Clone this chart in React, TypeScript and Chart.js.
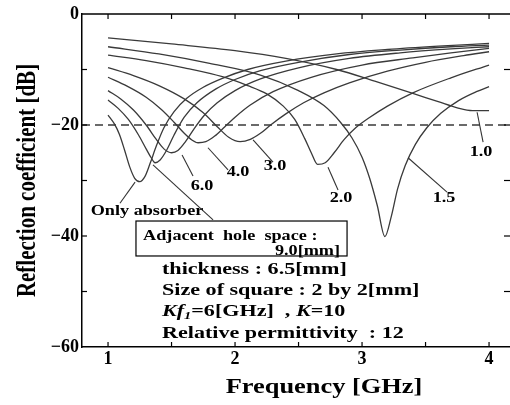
import React, { useEffect, useRef } from "react";
import { Chart, registerables } from "chart.js";

Chart.register(...registerables);

// ---- data (frequency in GHz, reflection coefficient in dB) ----
const seriesNames = ["Only absorber", "9.0", "6.0", "4.0", "3.0", "2.0", "1.5", "1.0"];

const freqOnly = [1.0, 1.05, 1.09, 1.13, 1.17, 1.21, 1.25, 1.29, 1.33, 1.38, 1.44, 1.52, 1.62, 1.75, 1.9, 2.1, 2.4, 2.8, 3.2, 3.6, 4.0];
const dbOnly = [-18.2, -19.8, -21.7, -24.5, -27.5, -29.6, -30.2, -29.3, -27.0, -23.8, -20.5, -17.6, -15.2, -13.2, -11.6, -10.0, -8.5, -7.2, -6.4, -5.8, -5.3];

const freq90 = [1.0, 1.08, 1.16, 1.24, 1.3, 1.34, 1.37, 1.41, 1.46, 1.52, 1.6, 1.7, 1.85, 2.0, 2.2, 2.5, 2.9, 3.3, 3.7, 4.0];
const db90 = [-15.5, -17.0, -19.0, -21.8, -24.3, -25.9, -26.8, -26.3, -24.6, -21.8, -18.6, -16.0, -13.5, -11.8, -10.2, -8.7, -7.3, -6.5, -5.9, -5.6];

const freq60 = [1.0, 1.1, 1.2, 1.3, 1.38, 1.44, 1.5, 1.55, 1.61, 1.68, 1.76, 1.86, 2.0, 2.2, 2.5, 2.9, 3.3, 3.7, 4.0];
const db60 = [-13.8, -15.3, -17.3, -20.0, -22.6, -24.3, -25.0, -24.6, -23.0, -20.6, -18.2, -16.0, -13.8, -11.7, -9.7, -8.0, -7.0, -6.3, -5.9];

const freq40 = [1.0, 1.15, 1.3, 1.42, 1.52, 1.6, 1.66, 1.71, 1.77, 1.84, 1.92, 2.0, 2.12, 2.3, 2.6, 3.0, 3.4, 3.7, 4.0];
const db40 = [-11.4, -13.0, -15.0, -17.2, -19.5, -21.5, -22.7, -23.2, -23.0, -22.0, -20.3, -18.6, -16.4, -14.0, -11.4, -9.2, -7.9, -7.0, -6.2];

const freq30 = [1.0, 1.2, 1.4, 1.6, 1.75, 1.86, 1.95, 2.04, 2.12, 2.2, 2.28, 2.4, 2.54, 2.7, 2.9, 3.2, 3.5, 3.8, 4.0];
const db30 = [-9.65, -11.1, -12.9, -15.3, -17.8, -20.3, -22.2, -23.0, -22.6, -21.5, -20.0, -18.0, -16.0, -14.2, -12.4, -10.3, -8.7, -7.5, -6.8];

const freq20 = [1.0, 1.3, 1.6, 1.9, 2.1, 2.25, 2.38, 2.47, 2.55, 2.6, 2.65, 2.71, 2.78, 2.86, 2.95, 3.05, 3.2, 3.4, 3.7, 4.0];
const db20 = [-7.4, -8.4, -9.7, -11.3, -12.9, -14.4, -16.6, -19.0, -22.5, -25.0, -27.1, -26.8, -25.0, -22.6, -20.5, -18.8, -16.6, -14.2, -11.5, -9.2];

const freq15 = [1.0, 1.4, 1.8, 2.2, 2.5, 2.7, 2.83, 2.92, 3.0, 3.06, 3.12, 3.18, 3.23, 3.28, 3.34, 3.42, 3.51, 3.62, 3.76, 3.9, 4.0];
const db15 = [-5.9, -7.2, -8.9, -11.0, -13.8, -16.5, -19.5, -22.3, -25.8, -29.6, -34.5, -40.1, -36.5, -31.5, -27.3, -23.5, -20.5, -17.9, -15.6, -14.0, -13.1];

const freq10 = [1.0, 1.5, 2.0, 2.4, 2.8, 3.1, 3.4, 3.6, 3.75, 3.87, 4.0];
const db10 = [-4.3, -5.4, -6.6, -8.0, -10.0, -12.1, -14.3, -15.8, -16.9, -17.4, -17.4];

const seriesFreqs = [freqOnly, freq90, freq60, freq40, freq30, freq20, freq15, freq10];
const seriesDbs = [dbOnly, db90, db60, db40, db30, db20, db15, db10];

const referenceLevel = -20;
const xMin = 0.795;
const xMax = 4.165;
const yMin = -60;
const yMax = 0;
const xTickValues = [1, 2, 3, 4];
const yTickValues = [0, -20, -40, -60];
const xMinorTicks = [1, 1.5, 2, 2.5, 3, 3.5, 4];
const yMinorTicks = [-10, -20, -30, -40, -50];

// annotation texts
const xTitle = "Frequency [GHz]";
const yTitle = "Reflection coefficient [dB]";
const boxLine1 = "Adjacent  hole  space :";
const boxLine2 = "9.0[mm]";
const paramLine1 = "thickness : 6.5[mm]";
const paramLine2 = "Size of square : 2 by 2[mm]";
const paramLine4 = "Relative permittivity  : 12";

// curve labels: text, label centre (GHz, dB), pointer from/to (GHz, dB)
const curveLabels = [
  { text: "Only absorber", at: [1.307, -35.5], p: [1.094, -34.1, 1.213, -30.3] },
  { text: "6.0", at: [1.74, -31.0], p: [1.583, -25.4, 1.669, -29.2] },
  { text: "4.0", at: [2.024, -28.5], p: [1.787, -24.1, 1.945, -28.1] },
  { text: "3.0", at: [2.315, -27.4], p: [2.142, -22.7, 2.299, -26.7] },
  { text: "2.0", at: [2.835, -33.2], p: [2.732, -27.6, 2.811, -31.7] },
  { text: "1.5", at: [3.646, -33.3], p: [3.362, -25.9, 3.669, -32.1] },
  { text: "1.0", at: [3.937, -24.9], p: [3.906, -17.7, 3.953, -23.1] },
];

const SERIF = '"Liberation Serif", "Times New Roman", serif';
const SX = 1.3;

function drawStretched(
  ctx: CanvasRenderingContext2D,
  text: string,
  x: number,
  y: number,
  font: string,
  sx: number,
  align: "left" | "center" | "right" = "left"
) {
  ctx.save();
  ctx.font = font;
  ctx.textBaseline = "middle";
  ctx.textAlign = "left";
  const w = ctx.measureText(text).width * sx;
  let x0 = x;
  if (align === "center") x0 = x - w / 2;
  else if (align === "right") x0 = x - w;
  ctx.translate(x0, y);
  ctx.scale(sx, 1);
  ctx.fillStyle = "#000";
  ctx.fillText(text, 0, 0);
  ctx.restore();
  return w;
}

const decorPlugin = {
  id: "decor",
  afterDraw(chart: any) {
    const { ctx, chartArea: a, scales } = chart;
    const X = (v: number) => scales.x.getPixelForValue(v);
    const Y = (v: number) => scales.y.getPixelForValue(v);
    const line = (x1: number, y1: number, x2: number, y2: number) => {
      ctx.beginPath();
      ctx.moveTo(x1, y1);
      ctx.lineTo(x2, y2);
      ctx.stroke();
    };
    ctx.save();
    ctx.strokeStyle = "#000";
    ctx.lineWidth = 1.5;
    line(a.left, a.top, a.right, a.top);
    ctx.lineWidth = 1.2;
    xMinorTicks.forEach((v) => {
      line(X(v), a.bottom, X(v), a.bottom - 5);
      line(X(v), a.top, X(v), a.top + 5);
    });
    yMinorTicks.forEach((v) => {
      line(a.left, Y(v), a.left + 5, Y(v));
      line(a.right, Y(v), a.right - 6, Y(v));
    });

    // pointers
    ctx.strokeStyle = "#333";
    ctx.lineWidth = 1.1;
    curveLabels.forEach((c) => line(X(c.p[0]), Y(c.p[1]), X(c.p[2]), Y(c.p[3])));
    // box pointer
    line(X(1.354), Y(-27.2), X(1.827), Y(-37.1));

    // curve labels
    curveLabels.forEach((c) =>
      drawStretched(ctx, c.text, X(c.at[0]), Y(c.at[1]), `bold 14px ${SERIF}`, SX, "center")
    );

    // box
    ctx.strokeStyle = "#000";
    ctx.lineWidth = 1.2;
    const bx1 = X(1.22), by1 = Y(-37.3), bx2 = X(2.882), by2 = Y(-43.6);
    ctx.fillStyle = "#fff";
    ctx.fillRect(bx1, by1, bx2 - bx1, by2 - by1);
    ctx.strokeRect(bx1, by1, bx2 - bx1, by2 - by1);
    drawStretched(ctx, boxLine1, X(1.276), Y(-40.0), `bold 14px ${SERIF}`, SX, "left");
    drawStretched(ctx, boxLine2, X(2.827), Y(-42.7), `bold 14px ${SERIF}`, SX, "right");

    // parameter block
    const px = X(1.425);
    const pf = `bold 17px ${SERIF}`;
    const pfi = `italic bold 17px ${SERIF}`;
    drawStretched(ctx, paramLine1, px, Y(-46.1), pf, SX);
    drawStretched(ctx, paramLine2, px, Y(-49.9), pf, SX);
    const y3 = Y(-53.7);
    let cx = px;
    cx += drawStretched(ctx, "Kf", cx, y3, pfi, SX);
    cx += drawStretched(ctx, "1", cx, y3 + 4, `italic bold 11px ${SERIF}`, SX);
    cx += drawStretched(ctx, "=6[GHz]  , ", cx, y3, pf, SX);
    cx += drawStretched(ctx, "K", cx, y3, pfi, SX);
    drawStretched(ctx, "=10", cx, y3, pf, SX);
    drawStretched(ctx, paramLine4, px, Y(-57.5), pf, SX);

    // axis titles
    drawStretched(ctx, xTitle, 324, 388, `bold 20px ${SERIF}`, 1.32, "center");
    ctx.save();
    ctx.translate(28, (a.top + a.bottom) / 2);
    ctx.scale(1.3, 1);
    ctx.rotate(-Math.PI / 2);
    ctx.font = `bold 21px ${SERIF}`;
    ctx.textAlign = "center";
    ctx.textBaseline = "middle";
    ctx.fillStyle = "#000";
    ctx.fillText(yTitle, 0, 0);
    ctx.restore();

    ctx.restore();
  },
};

export default function App() {
  const canvasRef = useRef<HTMLCanvasElement | null>(null);

  useEffect(() => {
    if (!canvasRef.current) return;
    const datasets: any[] = seriesNames.map((name, i) => ({
      label: name,
      data: seriesFreqs[i].map((f, j) => ({ x: f, y: seriesDbs[i][j] })),
      borderColor: "#3a3a3a",
      borderWidth: 1.3,
      pointRadius: 0,
      fill: false,
      cubicInterpolationMode: "monotone",
    }));
    datasets.push({
      label: "-20 dB",
      data: [
        { x: xMin, y: referenceLevel },
        { x: xMax, y: referenceLevel },
      ],
      borderColor: "#3a3a3a",
      borderWidth: 1.3,
      borderDash: [8, 5],
      pointRadius: 0,
      fill: false,
    });

    const tickFont = { family: SERIF, size: 18, weight: "bold" as const };
    const chart = new Chart(canvasRef.current, {
      type: "line",
      data: { datasets },
      options: {
        responsive: false,
        animation: false,
        devicePixelRatio: 1,
        layout: { padding: { left: 0, top: 14, right: 0, bottom: 0 } },
        plugins: { legend: { display: false }, tooltip: { enabled: false } },
        scales: {
          x: {
            type: "linear",
            min: xMin,
            max: xMax,
            grid: { display: false, drawTicks: false },
            border: { display: true, color: "#000", width: 1.5 },
            ticks: { font: tickFont, color: "#000", padding: 2, maxRotation: 0 },
            afterBuildTicks: (s: any) => {
              s.ticks = xTickValues.map((v) => ({ value: v }));
            },
            afterFit: (s: any) => {
              s.height = 58;
              s.paddingLeft = 0;
              s.paddingRight = 0;
            },
          },
          y: {
            type: "linear",
            min: yMin,
            max: yMax,
            grid: { display: false, drawTicks: false },
            border: { display: true, color: "#000", width: 1.5 },
            ticks: {
              font: tickFont,
              color: "#000",
              padding: 3,
              callback: (v: any) => (v === 0 ? "0" : "\u2212" + Math.abs(v)),
            },
            afterBuildTicks: (s: any) => {
              s.ticks = yTickValues.map((v) => ({ value: v }));
            },
            afterFit: (s: any) => {
              s.width = 82;
              s.paddingTop = 0;
              s.paddingBottom = 0;
            },
          },
        },
      },
      plugins: [decorPlugin],
    });
    return () => chart.destroy();
  }, []);

  return (
    <div style={{ position: "absolute", left: 0, top: 0, width: 510, height: 405, background: "#fff" }}>
      <canvas ref={canvasRef} width={510} height={405} style={{ display: "block" }} />
    </div>
  );
}
